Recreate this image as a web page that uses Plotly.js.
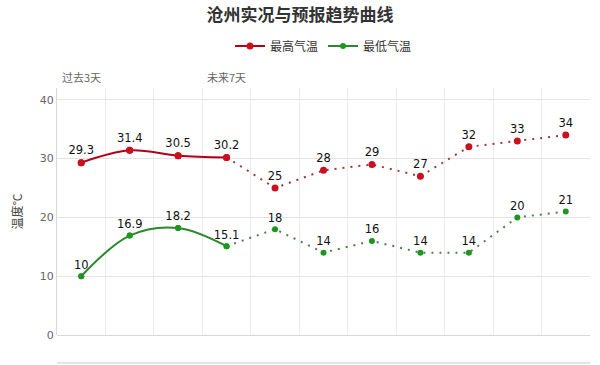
<!DOCTYPE html>
<html><head><meta charset="utf-8">
<script src="https://cdn.plot.ly/plotly-3.0.1.min.js"></script>
<style>html,body{margin:0;padding:0;background:#fff}#c{width:600px;height:365px}</style>
</head><body><div id="c"></div>
<script>
var days = ["D1","D2","D3","D4","D5","D6","D7","D8","D9","D10","D11"];
var highTemps = [29.3, 31.4, 30.5, 30.2, 25, 28, 29, 27, 32, 33, 34];
var lowTemps = [10, 16.9, 18.2, 15.1, 18, 14, 16, 14, 14, 20, 21];
var pastCount = 4;
var seriesNames = ["最高气温", "最低气温"];
var periodLabels = ["过去3天", "未来7天"];

var font = "'Noto Sans CJK SC', 'DejaVu Sans', sans-serif";
var red = "#c8101e", green = "#1e961e";

function mk(vals, name, color, lineColor, dotColor, msize) {
  var past = days.slice(0, pastCount), pv = vals.slice(0, pastCount);
  var fut = days.slice(pastCount - 1), fv = vals.slice(pastCount - 1);
  return [
    {x: past, y: pv, type: 'scatter', mode: 'lines+markers', name: name,
     line: {color: lineColor, width: 2, shape: 'spline', smoothing: 1},
     marker: {color: color, size: msize, symbol: 'circle'}},
    {x: fut, y: fv, type: 'scatter', mode: 'lines', showlegend: false, hoverinfo: 'skip',
     line: {color: dotColor, width: 2, dash: '2px,6px'}},
    {x: days, y: vals, type: 'scatter', mode: 'markers+text', showlegend: false,
     text: vals.map(String), textposition: 'top center',
     textfont: {family: "'DejaVu Sans', sans-serif", size: 11.5, color: '#111'},
     marker: {color: color, size: msize, symbol: 'circle'}}
  ];
}

var data = [].concat(mk(highTemps, seriesNames[0], red, '#b00018', '#9a3a3a', 7),
                     mk(lowTemps, seriesNames[1], green, '#2a8a2a', '#4f7f4f', 6));

var layout = {
  width: 600, height: 365,
  margin: {l: 57, r: 10, t: 88, b: 30},
  paper_bgcolor: '#fff', plot_bgcolor: '#fff',
  font: {family: font, color: '#333'},
  title: {text: '<b>沧州实况与预报趋势曲线</b>', x: 0.5, xanchor: 'center', y: 0.958, yanchor: 'middle',
          font: {family: font, size: 17, color: '#333'}},
  showlegend: true,
  legend: {orientation: 'h', x: 0.5, xanchor: 'center', y: 1.17, yanchor: 'middle',
           font: {family: font, size: 12, color: '#333'}, itemwidth: 30},
  xaxis: {type: 'category', range: [-0.5, 10.5], showticklabels: false, ticks: '',
          tickson: 'boundaries', showgrid: true, gridcolor: '#ebebeb', gridwidth: 1,
          showline: false, zeroline: false, fixedrange: true},
  yaxis: {range: [0, 42], tickvals: [0, 10, 20, 30, 40], showgrid: true, gridcolor: '#e3e3e3',
          zeroline: true, zerolinecolor: '#d8d8d8', showline: true, linecolor: '#d8d8d8',
          ticks: '', tickfont: {family: "'DejaVu Sans', sans-serif", size: 11, color: '#666'},
          title: {text: '温度°C', font: {family: font, size: 12, color: '#444'}, standoff: 14}},
  annotations: [
    {text: periodLabels[0], xref: 'x', x: days[0], yref: 'paper', y: 1.045, yanchor: 'middle',
     showarrow: false, font: {family: font, size: 11, color: '#666'}},
    {text: periodLabels[1], xref: 'x', x: days[3], yref: 'paper', y: 1.045, yanchor: 'middle',
     showarrow: false, font: {family: font, size: 11, color: '#666'}}
  ],
  shapes: [
    {type: 'line', xref: 'paper', yref: 'paper', x0: 0, x1: 1, y0: -0.113, y1: -0.113,
     line: {color: '#cccccc', width: 1}}
  ]
};

Plotly.newPlot('c', data, layout, {displayModeBar: false, staticPlot: true});
</script></body></html>
